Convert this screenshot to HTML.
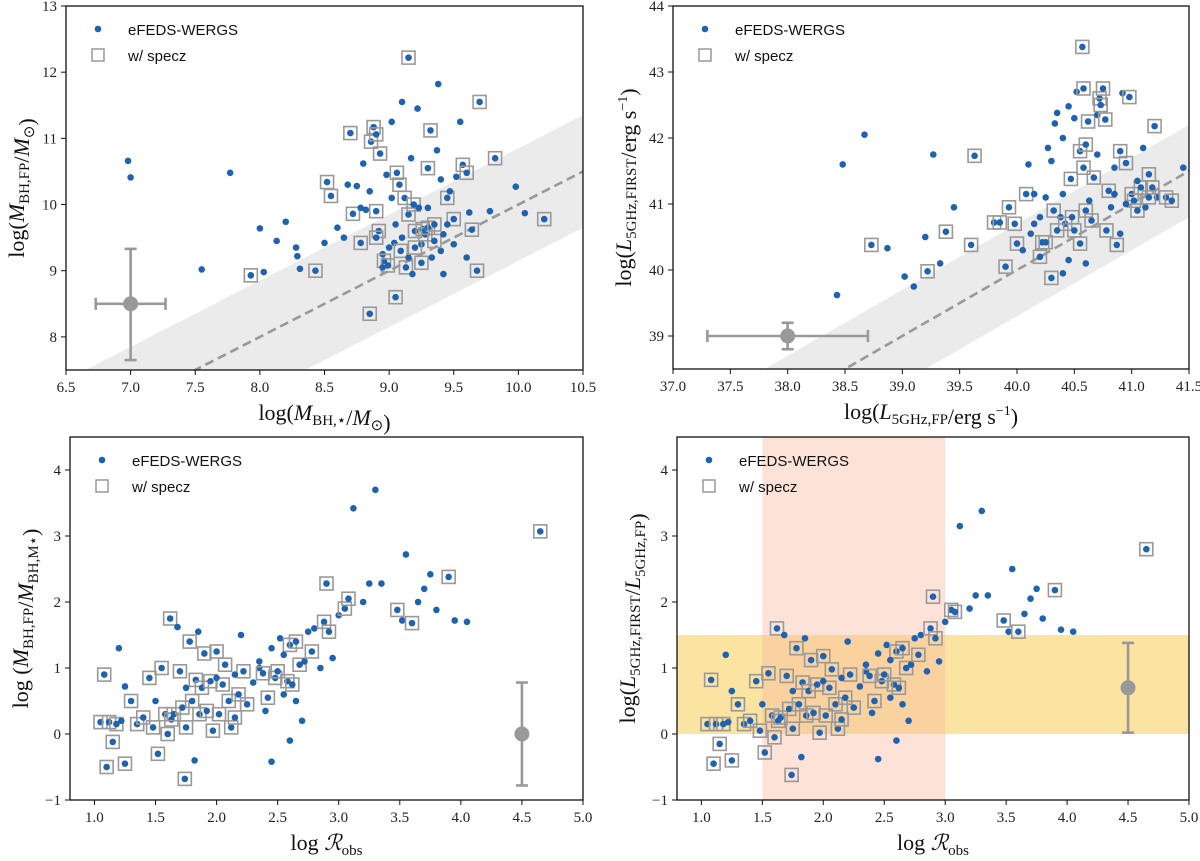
<!DOCTYPE html>
<html><head><meta charset="utf-8"><style>
html,body{margin:0;padding:0;background:#fff}
svg{display:block}
.tick{font-family:"Liberation Serif",serif;font-size:15px;fill:#222}
.lab{font-family:"Liberation Serif",serif;font-size:22px;fill:#111}
.leg{font-family:"Liberation Sans",sans-serif;font-size:15px;fill:#111}
</style></head><body>
<svg id="fig" width="1200" height="861" viewBox="0 0 1200 861" xmlns="http://www.w3.org/2000/svg"></svg>
<script>
// ---- data (x, y, has specz) ----
const tlX=[6.98,7.0,7.55,7.77,7.93,8.0,8.03,8.13,8.2,8.28,8.29,8.31,8.43,8.5,8.52,8.55,8.6,8.68,8.7,8.72,8.75,8.78,8.8,8.82,8.85,8.86,8.88,8.9,8.9,8.92,8.93,8.95,8.96,8.98,8.99,9.0,9.02,9.04,9.05,9.06,9.08,9.09,9.1,9.12,9.13,9.15,9.15,9.17,9.19,9.2,9.22,9.23,9.25,9.26,9.28,9.3,9.3,9.32,9.33,9.35,9.37,9.38,9.4,9.42,9.45,9.47,9.5,9.52,9.55,9.57,9.6,9.62,9.64,9.68,9.7,9.78,9.82,9.98,10.05,10.2,8.95,9.1,9.25,9.18,9.02,8.85,9.4,9.45,9.35,9.15,8.78,9.05,8.65,9.5,9.6,8.9,9.3,9.2,9.42];
const tlY=[10.66,10.41,9.02,10.48,8.93,9.64,8.98,9.45,9.74,9.35,9.22,9.03,9.0,9.42,10.34,10.13,9.65,10.3,11.08,9.86,10.28,9.42,10.62,9.92,8.35,10.95,11.17,11.06,9.9,9.6,10.77,9.25,9.15,10.45,9.08,9.35,11.25,9.42,8.6,10.48,10.3,9.3,11.55,10.1,9.05,12.22,9.85,10.7,10.0,9.6,11.45,9.95,9.12,9.63,9.55,10.55,9.65,11.12,9.2,9.7,10.82,11.82,10.38,8.95,10.1,10.2,9.78,10.42,11.25,10.6,10.48,9.88,9.62,9.0,11.55,9.9,10.7,10.27,9.87,9.78,9.05,9.5,9.4,8.95,10.1,10.2,9.3,9.7,9.45,9.2,9.95,9.7,9.5,9.4,9.2,9.5,9.95,9.35,9.55];
const tlS=[0,0,0,0,1,0,0,0,0,0,0,0,1,0,1,1,0,0,1,1,0,1,0,0,1,1,1,1,1,1,1,0,1,0,1,0,0,0,1,1,1,1,0,1,1,1,1,0,1,1,0,0,1,1,1,1,1,1,0,1,0,0,0,0,1,0,1,0,0,1,1,0,1,1,1,0,1,0,0,1,0,0,0,0,0,0,0,0,1,0,0,0,0,0,0,1,0,1,0];
const trX=[38.43,38.48,38.67,38.73,38.87,39.02,39.1,39.2,39.22,39.27,39.33,39.38,39.45,39.6,39.63,39.8,39.85,39.9,39.93,39.98,40.0,40.05,40.08,40.1,40.12,40.15,40.2,40.22,40.25,40.27,40.3,40.3,40.32,40.33,40.35,40.38,40.4,40.4,40.42,40.45,40.47,40.48,40.5,40.5,40.52,40.55,40.57,40.58,40.58,40.6,40.6,40.62,40.63,40.67,40.7,40.72,40.73,40.75,40.77,40.78,40.8,40.82,40.85,40.87,40.9,40.92,40.95,40.98,41.0,41.02,41.05,41.08,41.1,41.12,41.15,41.18,41.2,41.22,41.3,41.35,41.45,40.2,40.35,40.65,40.45,40.55,40.95,40.7,40.15,40.85,40.6,41.05,40.9,40.25,40.4,41.15];
const trY=[39.62,41.6,42.05,40.38,40.33,39.9,39.75,40.5,39.98,41.75,40.1,40.58,40.95,40.38,41.73,40.72,40.72,40.05,40.95,40.7,40.4,40.3,41.15,41.6,40.55,41.15,40.2,40.42,40.42,41.85,41.65,39.88,40.9,42.22,42.38,40.8,41.15,42.0,40.7,42.48,41.38,40.8,42.3,40.6,42.7,41.8,43.38,42.75,41.55,40.9,40.1,42.25,41.05,41.4,42.35,42.6,42.5,42.75,42.28,40.6,41.2,40.95,41.15,40.38,41.8,42.68,41.62,42.62,41.15,41.05,40.9,41.25,41.85,40.95,41.45,41.25,42.18,41.1,41.1,41.05,41.55,40.8,40.6,40.75,40.15,40.4,41.0,41.75,40.7,41.55,41.9,41.35,40.55,41.1,39.95,41.1];
const trS=[0,0,0,1,0,0,0,0,1,0,0,1,0,1,1,1,1,1,1,1,1,0,1,0,0,0,1,1,1,0,0,1,1,0,0,0,0,0,1,0,1,1,0,1,0,1,1,1,1,1,0,1,0,1,0,1,1,1,1,1,1,0,0,1,1,0,1,1,1,1,1,1,0,0,1,1,1,0,1,1,0,0,1,1,0,1,0,0,0,0,1,0,0,0,0,1];
const blX=[1.08,1.05,1.1,1.12,1.15,1.18,1.2,1.22,1.25,1.25,1.3,1.35,1.4,1.45,1.48,1.5,1.52,1.55,1.58,1.6,1.62,1.63,1.65,1.68,1.7,1.72,1.74,1.75,1.78,1.8,1.82,1.83,1.85,1.86,1.88,1.9,1.92,1.95,1.97,2.0,2.02,2.05,2.07,2.1,2.12,2.15,2.18,2.2,2.22,2.3,2.35,2.38,2.4,2.42,2.45,2.45,2.48,2.5,2.52,2.55,2.58,2.6,2.62,2.65,2.68,2.7,2.72,2.75,2.78,2.8,2.85,2.88,2.9,2.92,2.95,3.0,3.05,3.08,3.12,3.2,3.25,3.3,3.35,3.48,3.52,3.55,3.6,3.65,3.7,3.75,3.8,3.9,3.95,4.05,4.65,2.35,2.55,2.0,1.75,2.25,2.15,2.65,2.6];
const blY=[0.9,0.18,-0.5,0.18,-0.12,0.15,1.3,0.2,-0.45,0.72,0.5,0.15,0.25,0.85,0.1,0.5,-0.3,1.0,0.3,0.0,1.75,0.22,0.3,1.62,0.95,0.4,-0.68,0.1,1.4,0.5,-0.4,0.82,1.55,0.3,0.7,1.22,0.35,0.8,0.05,1.25,0.3,0.75,1.05,0.5,0.1,0.25,0.6,1.5,0.95,0.78,1.0,0.92,0.35,0.55,-0.42,1.3,0.85,0.95,1.45,0.6,0.8,1.35,0.75,1.4,1.05,0.2,1.1,1.55,1.25,1.6,1.0,1.7,2.28,1.55,1.15,1.8,1.9,2.05,3.42,2.0,2.28,3.7,2.28,1.88,1.72,2.72,1.68,2.0,2.2,2.42,1.88,2.38,1.72,1.7,3.07,1.1,1.2,0.85,0.7,0.45,0.9,0.5,-0.1];
const blS=[1,1,1,1,1,1,0,0,1,0,1,1,1,1,1,0,1,1,1,1,1,1,1,0,1,1,1,1,1,1,0,1,0,1,1,1,1,1,1,1,1,1,1,1,1,1,1,0,1,0,0,1,0,1,0,0,1,1,0,0,1,1,1,1,1,0,0,0,1,0,0,1,1,1,0,0,1,1,0,0,0,0,0,1,0,0,1,0,0,0,0,1,0,0,1,0,0,0,0,1,0,0,0];
const brX=blX.slice();
const brY=[0.82,0.15,-0.45,0.15,-0.15,0.15,1.2,0.18,-0.4,0.65,0.45,0.15,0.2,0.8,0.05,0.45,-0.28,0.92,0.28,-0.05,1.6,0.2,0.25,1.5,0.88,0.38,-0.62,0.08,1.3,0.45,-0.35,0.78,1.45,0.28,0.65,1.12,0.32,0.75,0.02,1.18,0.28,0.7,0.98,0.45,0.08,0.22,0.55,1.4,0.9,0.72,0.95,0.88,0.32,0.5,-0.38,1.22,0.8,0.9,1.35,0.55,0.75,1.25,0.7,1.3,1.0,0.2,1.05,1.45,1.2,1.5,0.95,1.6,2.08,1.45,1.1,1.7,1.88,1.85,3.15,1.9,2.1,3.38,2.1,1.72,1.55,2.5,1.55,1.82,2.05,2.2,1.75,2.18,1.58,1.55,2.8,1.05,1.12,0.8,0.65,0.4,0.85,0.45,-0.1];
const brS=blS.slice();

const NS="http://www.w3.org/2000/svg";
const svg=document.getElementById('fig');
function mk(tag,attrs,parent){const e=document.createElementNS(NS,tag);for(const k in attrs)e.setAttribute(k,attrs[k]);(parent||svg).appendChild(e);return e;}

function panel(cfg){
  const g=mk('g',{});
  
  
  const sx=v=>cfg.L+(v-cfg.x0)/(cfg.x1-cfg.x0)*(cfg.R-cfg.L);
  const sy=v=>cfg.B-(v-cfg.y0)/(cfg.y1-cfg.y0)*(cfg.B-cfg.T);
  const cp='clip-'+cfg.name;
  const cpe=mk('clipPath',{id:cp},g);mk('rect',{x:cfg.L,y:cfg.T,width:cfg.R-cfg.L,height:cfg.B-cfg.T},cpe);
  const inner=mk('g',{'clip-path':'url(#'+cp+')'},g);
  if(cfg.bg)cfg.bg(inner,sx,sy);
  // points
  for(let i=0;i<cfg.X.length;i++){
    const px=sx(cfg.X[i]),py=sy(cfg.Y[i]);
    const c=mk('circle',{cx:px,cy:py,r:3.3,fill:'#1f62b0'},inner);
    
    
    if(cfg.S[i]){
      const r=mk('rect',{x:px-6.5,y:py-6.5,width:13,height:13,fill:'none',stroke:'#999',"stroke-width":1.6},inner);
      
      
    }
  }
  // error bar
  const e=cfg.err;const eg=mk('g',{stroke:'#999',"stroke-width":2.6,fill:'none'},g);
  
  
  if(e.xl!==undefined){mk('line',{x1:sx(e.xl),x2:sx(e.xh),y1:sy(e.y),y2:sy(e.y)},eg);
    mk('line',{x1:sx(e.xl),x2:sx(e.xl),y1:sy(e.y)-6,y2:sy(e.y)+6},eg);mk('line',{x1:sx(e.xh),x2:sx(e.xh),y1:sy(e.y)-6,y2:sy(e.y)+6},eg);}
  mk('line',{x1:sx(e.x),x2:sx(e.x),y1:sy(e.yl),y2:sy(e.yh)},eg);
  mk('line',{x1:sx(e.x)-6,x2:sx(e.x)+6,y1:sy(e.yl),y2:sy(e.yl)},eg);mk('line',{x1:sx(e.x)-6,x2:sx(e.x)+6,y1:sy(e.yh),y2:sy(e.yh)},eg);
  mk('circle',{cx:sx(e.x),cy:sy(e.y),r:7.5,fill:'#999',stroke:'none'},eg);
  // frame
  const fr=mk('rect',{x:cfg.L,y:cfg.T,width:cfg.R-cfg.L,height:cfg.B-cfg.T,fill:'none',stroke:'#111',"stroke-width":1.3},g);
  
  
  // ticks
  cfg.xt.forEach(v=>{const x=sx(v);mk('line',{x1:x,x2:x,y1:cfg.B,y2:cfg.B+5,stroke:'#111'},g);
    const t=mk('text',{x:x,y:cfg.B+22,'text-anchor':'middle',class:'tick'},g);t.textContent=v.toFixed(1);
    
    });
  cfg.yt.forEach(v=>{const y=sy(v);mk('line',{x1:cfg.L-5,x2:cfg.L,y1:y,y2:y,stroke:'#111'},g);
    const t=mk('text',{x:cfg.L-9,y:y+5,'text-anchor':'end',class:'tick'},g);t.textContent=v<0?'\u2212'+(-v):String(v);
    
    });
  // legend
  const lg=mk('g',{},g);
  
  
  const lx=cfg.L+32,ly=cfg.T+23;
  mk('circle',{cx:lx,cy:ly,r:3.3,fill:'#1f62b0'},lg);
  const t1=mk('text',{x:lx+30,y:ly+6,class:'leg'},lg);t1.textContent='eFEDS-WERGS';
  
  
  mk('rect',{x:lx-6,y:ly+20,width:12,height:12,fill:'none',stroke:'#999',"stroke-width":1.5},lg);
  const t2=mk('text',{x:lx+30,y:ly+32,class:'leg'},lg);t2.textContent='w/ specz';
  
  
  // labels
  const xl=mk('text',{x:(cfg.L+cfg.R)/2,y:cfg.B+50,'text-anchor':'middle',class:'lab'},g);xl.innerHTML=cfg.xlab;
  
  
  const yl=mk('text',{x:0,y:0,'text-anchor':'middle',class:'lab',transform:'translate('+(cfg.L-42)+','+((cfg.T+cfg.B)/2)+') rotate(-90)'},g);yl.innerHTML=cfg.ylab;
  
  
}
const sub=s=>'<tspan font-size="15" dy="5">'+s+'</tspan><tspan dy="-5"></tspan>';
const it=s=>'<tspan font-style="italic">'+s+'</tspan>';

panel({name:'panel-mass',L:66,R:583,T:6,B:370,x0:6.5,x1:10.5,y0:7.5,y1:13,X:tlX,Y:tlY,S:tlS,
  xt:[6.5,7,7.5,8,8.5,9,9.5,10,10.5],yt:[8,9,10,11,12,13],
  err:{x:7.0,y:8.5,xl:6.73,xh:7.27,yl:7.65,yh:9.33},
  bg:(g,sx,sy)=>{mk('polygon',{points:[[sx(6),sy(6.85)],[sx(11),sy(11.85)],[sx(11),sy(10.15)],[sx(6),sy(5.15)]].join(' '),fill:'#ebebeb'},g);
    mk('line',{x1:sx(7),y1:sy(7),x2:sx(10.5),y2:sy(10.5),stroke:'#999','stroke-width':2.6,'stroke-dasharray':'9,5'},g);},
  xlab:'log('+it('M')+sub('BH,\u22c6')+'/'+it('M')+sub('\u2299')+')',
  ylab:'log('+it('M')+sub('BH,FP')+'/'+it('M')+sub('\u2299')+')'});
panel({name:'panel-radio',L:673,R:1189,T:6,B:369,x0:37,x1:41.5,y0:38.5,y1:44,X:trX,Y:trY,S:trS,
  xt:[37,37.5,38,38.5,39,39.5,40,40.5,41,41.5],yt:[39,40,41,42,43,44],
  err:{x:38.0,y:39.0,xl:37.3,xh:38.7,yl:38.8,yh:39.2},
  bg:(g,sx,sy)=>{mk('polygon',{points:[[sx(37),sy(37.7)],[sx(42),sy(42.7)],[sx(42),sy(41.3)],[sx(37),sy(36.3)]].join(' '),fill:'#ebebeb'},g);
    mk('line',{x1:sx(38),y1:sy(38),x2:sx(41.5),y2:sy(41.5),stroke:'#999','stroke-width':2.6,'stroke-dasharray':'9,5'},g);},
  xlab:'log('+it('L')+sub('5GHz,FP')+'/erg s<tspan font-size="14" dy="-9">\u22121</tspan><tspan dy="9">)</tspan>',
  ylab:'log('+it('L')+sub('5GHz,FIRST')+'/erg s<tspan font-size="14" dy="-9">\u22121</tspan><tspan dy="9">)</tspan>'});
panel({name:'panel-mass-ratio',L:70,R:583,T:437,B:800,x0:0.8,x1:5,y0:-1,y1:4.5,X:blX,Y:blY,S:blS,
  xt:[1,1.5,2,2.5,3,3.5,4,4.5,5],yt:[-1,0,1,2,3,4],
  err:{x:4.5,y:0,yl:-0.78,yh:0.78},
  xlab:'log '+it('\u211b')+sub('obs'),
  ylab:'log ('+it('M')+sub('BH,FP')+'/'+it('M')+sub('BH,M\u22c6')+')'});
panel({name:'panel-radio-ratio',L:677,R:1189,T:437,B:800,x0:0.8,x1:5,y0:-1,y1:4.5,X:brX,Y:brY,S:brS,
  xt:[1,1.5,2,2.5,3,3.5,4,4.5,5],yt:[-1,0,1,2,3,4],
  err:{x:4.5,y:0.7,yl:0.02,yh:1.38},
  bg:(g,sx,sy)=>{mk('rect',{x:sx(0.8),y:sy(1.5),width:sx(5)-sx(0.8),height:sy(0)-sy(1.5),fill:'#fbe3a2'},g);
    mk('rect',{x:sx(1.5),y:sy(4.5),width:sx(3)-sx(1.5),height:sy(-1)-sy(4.5),fill:'#f9b89a','fill-opacity':0.4},g);},
  xlab:'log '+it('\u211b')+sub('obs'),
  ylab:'log('+it('L')+sub('5GHz,FIRST')+'/'+it('L')+sub('5GHz,FP')+')'});
</script>
</body></html>
